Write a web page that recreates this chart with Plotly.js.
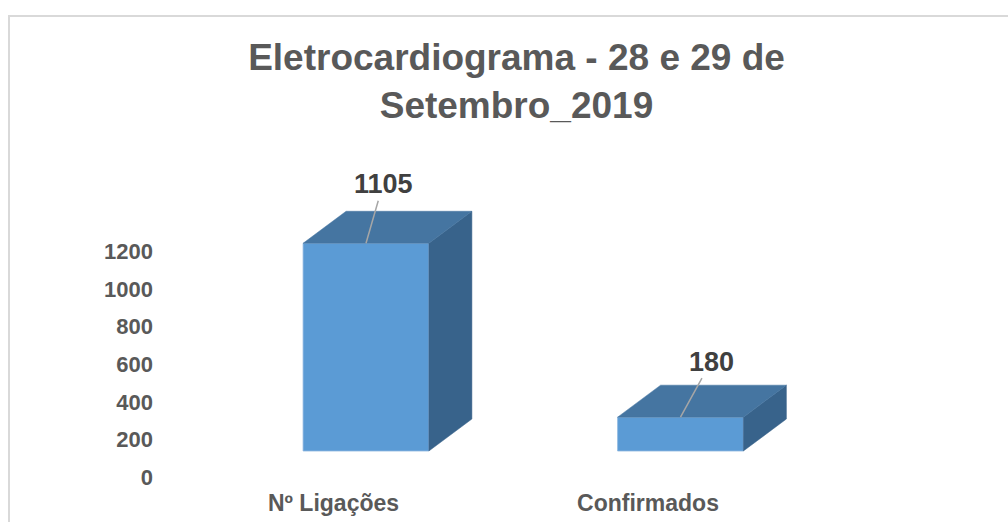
<!DOCTYPE html>
<html>
<head>
<meta charset="utf-8">
<script src="https://cdn.plot.ly/plotly-3.0.1.min.js"></script>
<style>html,body{margin:0;padding:0;background:#fff;}#chart{width:1008px;height:522px;}</style>
</head>
<body>
<div id="chart"></div>
<script>
// ---- data ----
const categories = ['Nº Ligações', 'Confirmados'];
const values = [1105, 180];
const yTickVals = [0, 200, 400, 600, 800, 1000, 1200];
const yTickText = ['0', '200', '400', '600', '800', '1000', '1200'];
const chartTitle = 'Eletrocardiograma - 28 e 29 de<br>Setembro_2019';

// ---- layout geometry (styles / positions) ----
const W = 1008, H = 522;
const catPx0 = 366, pxPerCat = 314.5, basePx = 451, pxPerVal = 0.188;
const lblX0 = catPx0 - 32.5, lblBase = 477, lblLeft = 154;
const barW = 0.4;
const depthX = 43 / pxPerCat, depthY = 32 / pxPerVal;
const labelOffsets = [[17, -59], [30.5, -55.6]];
const FONT = 'Liberation Sans, Arial, sans-serif';
const cFront = '#5B9BD5', cTop = '#4575A1', cSide = '#38638B';

const xs = categories.map((c, i) => i);
const traces = [];

// side and top faces (3D look) computed from values
xs.forEach((x, i) => {
  const v = values[i];
  const l = x - barW / 2, r = x + barW / 2;
  traces.push({
    type: 'scatter', mode: 'lines', xaxis: 'x', yaxis: 'y',
    x: [r, r, r + depthX, r + depthX, r],
    y: [0, v, v + depthY, depthY, 0],
    fill: 'toself', fillcolor: cSide, line: {color: cSide, width: 0.5},
    hoverinfo: 'skip', showlegend: false
  });
  traces.push({
    type: 'scatter', mode: 'lines', xaxis: 'x', yaxis: 'y',
    x: [l, r, r + depthX, l + depthX, l],
    y: [v, v, v + depthY, v + depthY, v],
    fill: 'toself', fillcolor: cTop, line: {color: cTop, width: 0.5},
    hoverinfo: 'skip', showlegend: false
  });
});

// front faces
traces.unshift({
  type: 'bar', x: xs, y: values, width: barW, xaxis: 'x', yaxis: 'y',
  marker: {color: cFront, line: {color: '#8DB6DF', width: 0.8}},
  hoverinfo: 'skip', showlegend: false
});

// dummy trace for the label axes
traces.push({
  type: 'scatter', mode: 'markers', x: xs, y: [0, 0], xaxis: 'x2', yaxis: 'y2',
  marker: {opacity: 0}, hoverinfo: 'skip', showlegend: false
});

const annotations = xs.map((x, i) => ({
  x: x, y: values[i], xref: 'x', yref: 'y',
  text: '<b>' + values[i] + '</b>',
  showarrow: true, arrowhead: 0, arrowwidth: 1.5, arrowcolor: '#A6A6A6',
  ax: labelOffsets[i][0], ay: labelOffsets[i][1], standoff: 0, startstandoff: 0,
  font: {family: FONT, size: 27, color: '#404040'}
}));

const layout = {
  width: W, height: H,
  margin: {l: 0, r: 0, t: 0, b: 0},
  paper_bgcolor: '#fff', plot_bgcolor: 'rgba(0,0,0,0)',
  hovermode: false,
  title: {
    text: '<b>' + chartTitle + '</b>',
    x: 516.5 / W, xanchor: 'center', xref: 'paper',
    y: 1 - 70 / H, yanchor: 'top', yref: 'paper',
    font: {family: FONT, size: 37, color: '#595959'}
  },
  xaxis: {
    domain: [0, 1], range: [(0 - catPx0) / pxPerCat, (W - catPx0) / pxPerCat],
    showgrid: false, zeroline: false, showline: false, showticklabels: false, fixedrange: true
  },
  yaxis: {
    domain: [0, 1], range: [(basePx - H) / pxPerVal, basePx / pxPerVal],
    showgrid: false, zeroline: false, showline: false, showticklabels: false, fixedrange: true
  },
  xaxis2: {
    domain: [lblLeft / W, 1], anchor: 'y2',
    range: [(lblLeft - lblX0) / pxPerCat, (W - lblX0) / pxPerCat],
    tickvals: xs, ticktext: categories.map(c => '<b>' + c + '</b>'),
    showgrid: false, zeroline: false, showline: false, ticks: '',
    ticklabelstandoff: 10,
    tickfont: {family: FONT, size: 23, color: '#595959'}, fixedrange: true
  },
  yaxis2: {
    domain: [(H - lblBase) / H, 1], anchor: 'x2',
    range: [0, lblBase / pxPerVal],
    tickvals: yTickVals, ticktext: yTickText.map(t => '<b>' + t + '</b>'),
    showgrid: false, zeroline: false, showline: false, ticks: '',
    tickfont: {family: FONT, size: 22, color: '#595959'}, fixedrange: true
  },
  annotations: annotations,
  shapes: [{
    type: 'rect', xref: 'paper', yref: 'paper',
    x0: 9 / W, x1: 1.02, y0: -0.05, y1: (H - 16) / H,
    line: {color: '#D9D9D9', width: 2}, fillcolor: 'rgba(0,0,0,0)', layer: 'below'
  }]
};

Plotly.newPlot('chart', traces, layout, {displayModeBar: false, staticPlot: true});
</script>
</body>
</html>
